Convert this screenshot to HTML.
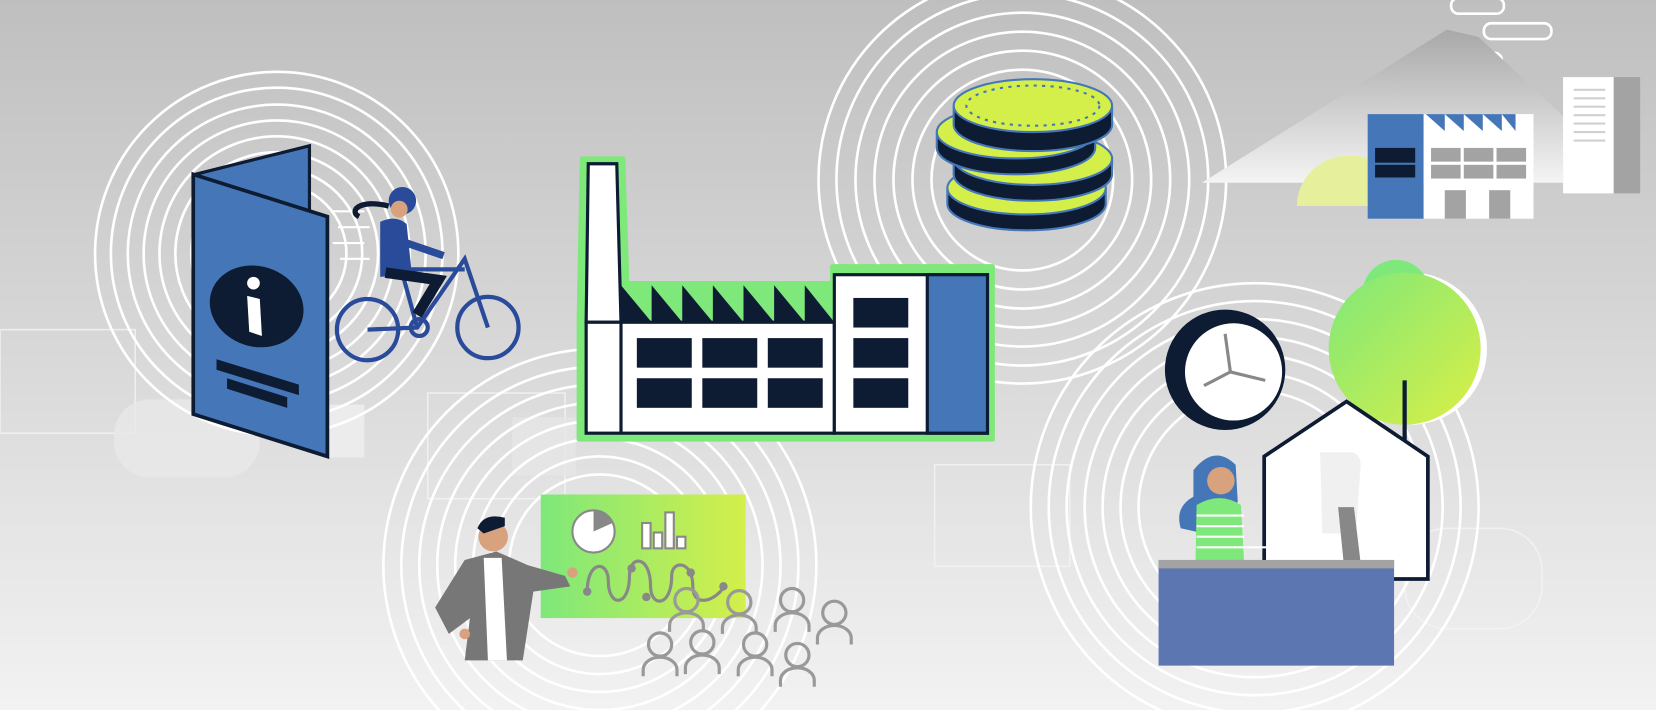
<!DOCTYPE html>
<html><head><meta charset="utf-8"><style>html,body{margin:0;padding:0;overflow:hidden;width:1656px;height:710px}svg{display:block;overflow:hidden}</style></head>
<body>
<svg width="1656" height="710" viewBox="0 0 1568 672" xmlns="http://www.w3.org/2000/svg" preserveAspectRatio="none">
<defs>
<linearGradient id="bg" x1="0" y1="0" x2="0" y2="1"><stop offset="0" stop-color="#bfbfbf"/><stop offset="1" stop-color="#f2f2f2"/></linearGradient>
<linearGradient id="gl" x1="0" y1="0" x2="1" y2="0"><stop offset="0" stop-color="#7ee87a"/><stop offset="1" stop-color="#d4ef4a"/></linearGradient>
<linearGradient id="tr" x1="0" y1="0" x2="1" y2="1"><stop offset="0" stop-color="#7ee87a"/><stop offset="1" stop-color="#dbef45"/></linearGradient>
<linearGradient id="mt" x1="0" y1="0" x2="0" y2="1"><stop offset="0" stop-color="#a8a8a8"/><stop offset="1" stop-color="#f4f4f4"/></linearGradient>
<clipPath id="cp"><rect width="1568" height="672"/></clipPath>
</defs>
<g clip-path="url(#cp)">
<rect width="1568" height="672" fill="url(#bg)"/>
<g fill="none" stroke="#f4f4f4" stroke-width="1.5" opacity="0.8">
<rect x="0" y="312" width="128" height="98"/><rect x="405" y="372" width="130" height="100"/><rect x="885" y="440" width="128" height="96"/><rect x="1330" y="500" width="130" height="95" rx="40"/>
</g>
<rect x="108" y="378" width="138" height="74" rx="34" fill="#e8e8e8" opacity="0.8"/>
<rect x="485" y="395" width="60" height="55" fill="#e6e6e6" opacity="0.8"/>
<rect x="310" y="383" width="35" height="50" fill="#ececec"/>
<g fill="none" stroke="#fff" stroke-width="2.5">
<g transform="translate(262,240)"><circle r="172"/><circle r="157"/><circle r="141"/><circle r="126"/><circle r="111"/><circle r="96"/><circle r="81"/><circle r="66"/></g>
<g transform="translate(968,170)"><circle r="193"/><circle r="176"/><circle r="158"/><circle r="140"/><circle r="122"/><circle r="104"/><circle r="86"/></g>
<g transform="translate(568,535)"><circle r="205"/><circle r="188"/><circle r="171"/><circle r="154"/><circle r="137"/><circle r="120"/><circle r="103"/><circle r="86"/></g>
<g transform="translate(1188,480)"><circle r="212"/><circle r="195"/><circle r="178"/><circle r="161"/><circle r="144"/><circle r="127"/><circle r="110"/></g>
</g>
<g fill="none" stroke="#fff" stroke-width="2.5"><rect x="1374" y="-2" width="50" height="15" rx="7"/><rect x="1405" y="22" width="64" height="15" rx="7"/><rect x="1388" y="50" width="34" height="15" rx="7"/></g>
<polygon points="1138,173 1370,28 1400,35 1480,110 1480,173" fill="url(#mt)"/>
<path d="M1228,195 A50,48 0 0 1 1328,195 Z" fill="#e6ef9c"/>
<rect x="1295" y="108" width="53" height="99" fill="#4577b8"/>
<rect x="1302" y="140" width="38" height="14" fill="#0d1b33"/><rect x="1302" y="156" width="38" height="12" fill="#0d1b33"/>
<rect x="1348" y="108" width="104" height="99" fill="#fff"/>
<g fill="#4577b8"><polygon points="1350,108 1368,108 1368,124"/><polygon points="1368,108 1386,108 1386,124"/><polygon points="1386,108 1404,108 1404,124"/><polygon points="1404,108 1422,108 1422,124"/><polygon points="1422,108 1435,108 1435,124"/></g>
<g fill="#a3a3a3"><rect x="1355" y="140" width="28" height="13"/><rect x="1386" y="140" width="28" height="13"/><rect x="1417" y="140" width="28" height="13"/><rect x="1355" y="156" width="28" height="13"/><rect x="1386" y="156" width="28" height="13"/><rect x="1417" y="156" width="28" height="13"/><rect x="1368" y="180" width="20" height="27"/><rect x="1410" y="180" width="20" height="27"/></g>
<rect x="1480" y="73" width="48" height="110" fill="#fff"/><rect x="1528" y="73" width="25" height="110" fill="#a3a3a3"/>
<g stroke="#d0d0d0" stroke-width="2"><line x1="1490" y1="85" x2="1520" y2="85"/><line x1="1490" y1="93" x2="1520" y2="93"/><line x1="1490" y1="101" x2="1520" y2="101"/><line x1="1490" y1="109" x2="1520" y2="109"/><line x1="1490" y1="117" x2="1520" y2="117"/><line x1="1490" y1="125" x2="1520" y2="125"/><line x1="1490" y1="133" x2="1520" y2="133"/></g>
<polygon points="185,165 293,138 293,205 185,205" fill="#4577b8" stroke="#0d1b33" stroke-width="3"/>
<polygon points="183,165 310,205 310,432 183,392" fill="#4577b8" stroke="#0d1b33" stroke-width="3.5"/>
<ellipse cx="243" cy="290" rx="45" ry="38" transform="rotate(18 243 290)" fill="#0d1b33"/>
<circle cx="240" cy="268" r="6" fill="#fff"/>
<polygon points="234,280 246,283 248,318 236,314" fill="#fff"/>
<polygon points="205,340 283,364 283,374 205,350" fill="#0d1b33"/>
<polygon points="215,358 272,376 272,386 215,368" fill="#0d1b33"/>
<g stroke="#2a4a9a" stroke-width="4" fill="none">
<circle cx="348" cy="312" r="29"/><circle cx="462" cy="310" r="29"/>
<polyline points="348,312 395,310 440,245 462,310"/><polyline points="395,310 380,255 440,255"/><circle cx="397" cy="310" r="8"/>
</g>
<g stroke="#fff" stroke-width="2"><line x1="315" y1="200" x2="345" y2="200"/><line x1="320" y1="215" x2="350" y2="215"/><line x1="315" y1="230" x2="345" y2="230"/><line x1="322" y1="245" x2="350" y2="245"/></g>
<path d="M368,195 C340,188 330,200 340,205" stroke="#0d1b33" stroke-width="5" fill="none"/>
<circle cx="381" cy="190" r="13" fill="#2a4a9a"/><circle cx="378" cy="198" r="8" fill="#d9a27f"/>
<path d="M360,210 Q375,203 385,212 L390,260 L360,262 Z" fill="#2a4a9a"/>
<path d="M385,230 L420,242" stroke="#2a4a9a" stroke-width="7"/>
<path d="M365,258 L415,265 L395,298" stroke="#0d1b33" stroke-width="10" fill="none"/>
<g fill="#7ee87a" stroke="#7ee87a" stroke-width="4" stroke-linejoin="round"><polygon points="551,150 590,150 594,268 788,268 788,252 940,252 940,416 548,416 548,300"/></g>
<polygon points="557,155 584,155 588,305 555,305" fill="#fff" stroke="#0d1b33" stroke-width="3"/>
<g fill="#0d1b33"><polygon points="588,270 617,305 588,305"/><polygon points="617,270 646,305 617,305"/><polygon points="646,270 675,305 646,305"/><polygon points="675,270 704,305 675,305"/><polygon points="704,270 733,305 704,305"/><polygon points="733,270 762,305 733,305"/><polygon points="762,270 790,305 762,305"/></g>
<rect x="555" y="305" width="235" height="105" fill="#fff" stroke="#0d1b33" stroke-width="3"/>
<line x1="588" y1="305" x2="588" y2="410" stroke="#0d1b33" stroke-width="3"/>
<g fill="#0d1b33"><rect x="603" y="320" width="52" height="28"/><rect x="665" y="320" width="52" height="28"/><rect x="727" y="320" width="52" height="28"/><rect x="603" y="358" width="52" height="28"/><rect x="665" y="358" width="52" height="28"/><rect x="727" y="358" width="52" height="28"/></g>
<rect x="790" y="260" width="145" height="150" fill="#fff" stroke="#0d1b33" stroke-width="3"/>
<rect x="878" y="260" width="57" height="150" fill="#4577b8" stroke="#0d1b33" stroke-width="3"/>
<g fill="#0d1b33"><rect x="808" y="282" width="52" height="28"/><rect x="808" y="320" width="52" height="28"/><rect x="808" y="358" width="52" height="28"/></g>
<g stroke="#4577b8" stroke-width="2">
<g transform="translate(972,178)"><path d="M-75,0 v15 a75,25 0 0 0 150,0 v-15" fill="#0d1b33"/><ellipse rx="75" ry="25" fill="#d4ef4a"/></g>
<g transform="translate(978,150)"><path d="M-75,0 v15 a75,25 0 0 0 150,0 v-15" fill="#0d1b33"/><ellipse rx="75" ry="25" fill="#d4ef4a"/></g>
<g transform="translate(962,125)"><path d="M-75,0 v15 a75,25 0 0 0 150,0 v-15" fill="#0d1b33"/><ellipse rx="75" ry="25" fill="#d4ef4a"/></g>
<g transform="translate(978,100)"><path d="M-75,0 v18 a75,25 0 0 0 150,0 v-18" fill="#0d1b33"/><ellipse rx="75" ry="25" fill="#d4ef4a"/><ellipse rx="63" ry="19" fill="none" stroke-dasharray="3 5"/></g>
</g>
<rect x="512" y="468" width="194" height="117" fill="url(#gl)"/>
<circle cx="562" cy="503" r="20" fill="#fff" stroke="#888" stroke-width="2"/><path d="M562,503 L562,483 A20,20 0 0 1 580,495 Z" fill="#888"/>
<g fill="#fff" stroke="#888" stroke-width="2"><rect x="608" y="495" width="8" height="24"/><rect x="619" y="504" width="8" height="15"/><rect x="630" y="485" width="8" height="34"/><rect x="641" y="508" width="8" height="11"/></g>
<path d="M556,560 C556,530 576,530 576,550 C576,575 596,575 596,545 C596,525 616,525 616,555 C616,575 636,575 636,545 C636,530 656,530 656,555 C656,575 676,570 686,555" fill="none" stroke="#888" stroke-width="3"/>
<g fill="#888"><circle cx="556" cy="560" r="4"/><circle cx="598" cy="538" r="4"/><circle cx="612" cy="565" r="4"/><circle cx="654" cy="542" r="4"/><circle cx="685" cy="555" r="4"/></g>
<path d="M440,530 L470,522 L500,535 L535,545 L540,555 L505,560 L495,625 L440,625 L445,585 L425,600 L412,575 Z" fill="#777"/>
<polygon points="458,528 475,528 480,625 462,625" fill="#fff"/>
<circle cx="467" cy="508" r="14" fill="#d9a27f"/>
<path d="M452,500 Q458,485 478,490 L478,498 L458,505 Z" fill="#0d1b33"/>
<circle cx="542" cy="542" r="5" fill="#d9a27f"/><circle cx="440" cy="600" r="5" fill="#d9a27f"/>
<g fill="none" stroke="#999" stroke-width="3">
<g transform="translate(650,568)"><circle r="11"/><path d="M-16,30 v-6 a16,12 0 0 1 32,0 v6"/></g>
<g transform="translate(700,570)"><circle r="11"/><path d="M-16,30 v-6 a16,12 0 0 1 32,0 v6"/></g>
<g transform="translate(750,568)"><circle r="11"/><path d="M-16,30 v-6 a16,12 0 0 1 32,0 v6"/></g>
<g transform="translate(790,580)"><circle r="11"/><path d="M-16,30 v-6 a16,12 0 0 1 32,0 v6"/></g>
<g transform="translate(625,610)"><circle r="11"/><path d="M-16,30 v-6 a16,12 0 0 1 32,0 v6"/></g>
<g transform="translate(665,608)"><circle r="11"/><path d="M-16,30 v-6 a16,12 0 0 1 32,0 v6"/></g>
<g transform="translate(715,610)"><circle r="11"/><path d="M-16,30 v-6 a16,12 0 0 1 32,0 v6"/></g>
<g transform="translate(755,620)"><circle r="11"/><path d="M-16,30 v-6 a16,12 0 0 1 32,0 v6"/></g>
</g>
<circle cx="1336" cy="330" r="72" fill="#fff"/>
<circle cx="1322" cy="278" r="32" fill="#7ee87a"/><circle cx="1330" cy="330" r="72" fill="url(#tr)"/>
<line x1="1330" y1="360" x2="1330" y2="420" stroke="#0d1b33" stroke-width="4"/>
<circle cx="1160" cy="350" r="57" fill="#0d1b33"/><circle cx="1168" cy="352" r="46" fill="#fff"/>
<g stroke="#888" stroke-width="3"><line x1="1165" y1="352" x2="1160" y2="316"/><line x1="1165" y1="352" x2="1198" y2="360"/><line x1="1165" y1="352" x2="1140" y2="365"/></g>
<polygon points="1197,432 1275,380 1352,432 1352,548 1197,548" fill="#fff" stroke="#0d1b33" stroke-width="3.5"/>
<path d="M1250,428 L1280,428 Q1290,430 1288,445 L1284,505 L1252,505 Z" fill="#f0f0f0"/>
<polygon points="1267,480 1282,480 1288,530 1272,530" fill="#888"/>
<path d="M1130,445 Q1150,420 1170,440 L1172,475 L1140,505 L1118,500 Q1112,480 1130,470 Z" fill="#4577b8"/>
<circle cx="1156" cy="455" r="13" fill="#d9a27f"/>
<path d="M1133,478 Q1155,465 1175,478 L1178,532 L1132,532 Z" fill="#7ee87a"/>
<g stroke="#fff" stroke-width="2"><line x1="1133" y1="488" x2="1178" y2="488"/><line x1="1133" y1="498" x2="1178" y2="498"/><line x1="1133" y1="508" x2="1178" y2="508"/><line x1="1133" y1="518" x2="1210" y2="518"/></g>
<rect x="1097" y="530" width="223" height="100" fill="#5b76b0"/>
<rect x="1097" y="530" width="223" height="8" fill="#a3a3a3"/>
</g>
</svg>
</body></html>
